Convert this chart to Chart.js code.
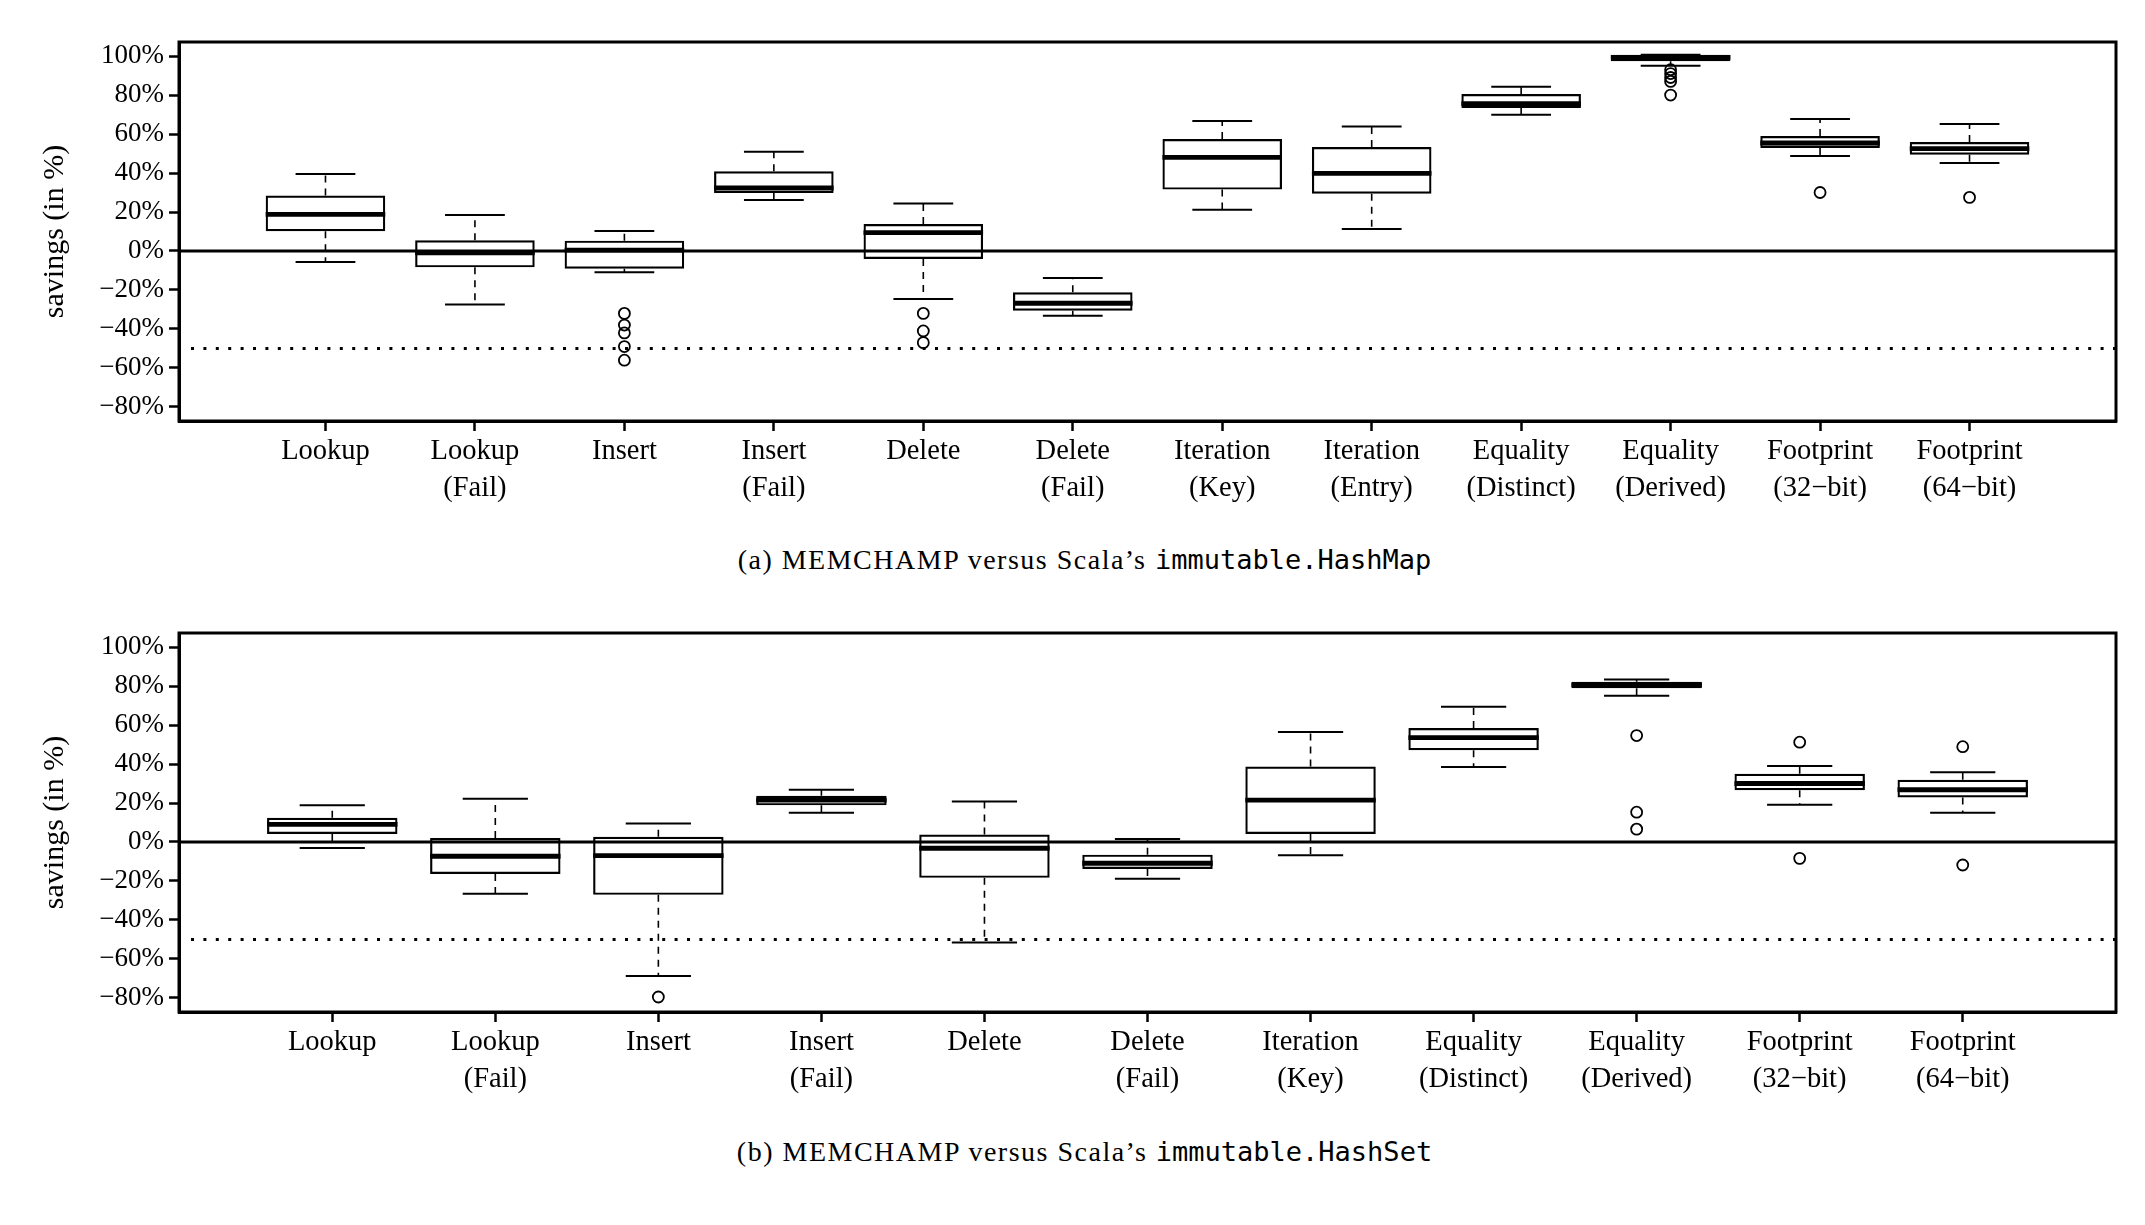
<!DOCTYPE html>
<html>
<head>
<meta charset="utf-8">
<title>MEMCHAMP savings</title>
<script src="https://cdn.jsdelivr.net/npm/chart.js@4"></script>
<style>
body { margin:0; background:#fff; width:2145px; height:1225px; position:relative; overflow:hidden; }
.panel { position:absolute; left:0; width:2145px; height:520px; }
.caption { position:absolute; left:12px; width:2145px; text-align:center; font-family:'Liberation Serif', serif; font-size:28px; letter-spacing:1.5px; color:#000; line-height:30px; }
.caption code { font-family:'DejaVu Sans Mono', monospace; font-size:27px; letter-spacing:0; }
</style>
</head>
<body>
<div class="panel" style="top:0px"><canvas id="mapChart" width="2145" height="520"></canvas></div>
<div class="caption" style="top:545px">(a) MEMCHAMP versus Scala’s <code>immutable.HashMap</code></div>
<div class="panel" style="top:591px"><canvas id="setChart" width="2145" height="520"></canvas></div>
<div class="caption" style="top:1137px">(b) MEMCHAMP versus Scala’s <code>immutable.HashSet</code></div>

<script>
///// data: (a) immutable.HashMap
var mapLabels = [['Lookup'], ['Lookup', '(Fail)'], ['Insert'], ['Insert', '(Fail)'], ['Delete'], ['Delete', '(Fail)'],
    ['Iteration', '(Key)'], ['Iteration', '(Entry)'], ['Equality', '(Distinct)'], ['Equality', '(Derived)'],
    ['Footprint', '(32−bit)'], ['Footprint', '(64−bit)']];
var mapLow    = [-5.6, -27.5, -10.9, 26.2, -24.6, -33.2, 21.2, 11.3, 69.9, 95.0, 48.7, 45.1];
var mapQ1     = [10.1, -8.4, -9.1, 29.7, -4.1, -30.6, 31.5, 29.4, 73.3, 97.3, 52.8, 49.4];
var mapMedian = [18.8, -1.0, 0.4, 32.3, 9.4, -26.8, 48.0, 39.8, 75.6, 99.3, 55.4, 52.5];
var mapQ3     = [28.5, 5.5, 5.3, 40.9, 13.8, -21.2, 57.4, 53.3, 80.5, 100.6, 59.0, 55.9];
var mapHigh   = [39.5, 18.5, 10.3, 50.9, 24.4, -13.8, 66.7, 63.9, 84.3, 100.6, 67.7, 65.1];
var mapOutliers = [[], [], [-32, -38, -42, -49, -56], [], [-32, -41, -47], [], [], [], [],
    [93, 91, 89, 87, 80], [30], [27.5]];

///// data: (b) immutable.HashSet
var setLabels = [['Lookup'], ['Lookup', '(Fail)'], ['Insert'], ['Insert', '(Fail)'], ['Delete'], ['Delete', '(Fail)'],
    ['Iteration', '(Key)'], ['Equality', '(Distinct)'], ['Equality', '(Derived)'],
    ['Footprint', '(32−bit)'], ['Footprint', '(64−bit)']];
var setLow    = [-3.1, -26.6, -68.7, 15.0, -51.5, -18.9, -6.8, 38.5, 75.0, 19.1, 15.0];
var setQ1     = [4.1, -16.4, -27.1, 18.8, -18.4, -13.8, 4.1, 47.1, 78.8, 26.6, 22.8];
var setMedian = [9.0, -7.3, -7.0, 21.5, -3.2, -10.9, 21.5, 53.5, 80.6, 30.0, 26.8];
var setQ3     = [12.4, 2.0, 2.7, 23.7, 3.8, -6.5, 38.7, 58.5, 82.2, 35.0, 31.9];
var setHigh   = [18.8, 22.2, 9.5, 26.8, 20.8, 1.5, 56.4, 69.4, 83.4, 39.0, 35.8];
var setOutliers = [[], [], [-79.5], [], [], [], [], [], [54.6, 15.3, 6.6], [51.2, -8.4], [48.9, -11.8]];

///// shared axis settings
var yTicks = [-80, -60, -40, -20, 0, 20, 40, 60, 80, 100];
var yMin = -80, yMax = 100;
var zeroLine = 0, dottedLine = -50;
/////

Chart.defaults.font.family = "'Liberation Serif', 'Times New Roman', serif";
Chart.defaults.color = '#000';
Chart.defaults.animation = false;

// the full frame + the horizontal reference lines
var framePlugin = {
    id: 'framePlugin',
    beforeDatasetsDraw: function(chart) {
        var ctx = chart.ctx, area = chart.chartArea, y = chart.scales.y;
        ctx.save();
        ctx.strokeStyle = '#000';
        ctx.lineWidth = 3;
        ctx.beginPath();
        ctx.moveTo(area.left, y.getPixelForValue(zeroLine));
        ctx.lineTo(area.right, y.getPixelForValue(zeroLine));
        ctx.stroke();
        ctx.lineWidth = 3;
        ctx.setLineDash([3, 9.4]);
        ctx.beginPath();
        ctx.moveTo(area.left + 12, y.getPixelForValue(dottedLine));
        ctx.lineTo(area.right, y.getPixelForValue(dottedLine));
        ctx.stroke();
        ctx.restore();
    },
    afterDraw: function(chart) {
        var ctx = chart.ctx, area = chart.chartArea;
        ctx.save();
        ctx.strokeStyle = '#000';
        ctx.lineWidth = 3;
        ctx.strokeRect(area.left, area.top, area.right - area.left, area.bottom - area.top);
        ctx.restore();
    }
};

function lineSet(points, width, dash, order) {
    return {
        type: 'line', data: points, borderColor: '#000', borderWidth: width, borderDash: dash,
        borderCapStyle: 'butt', pointRadius: 0, fill: false, spanGaps: false, tension: 0, order: order
    };
}

function makeChart(id, labels, low, q1, median, q3, high, outliers) {
    var n = labels.length;
    var whiskers = [], caps = [], medians = [], boxes = [], points = [];
    for (var i = 0; i < n; i++) {
        var x = i + 1;
        whiskers.push({x: x, y: q3[i]}, {x: x, y: high[i]}, {x: x, y: null});
        whiskers.push({x: x, y: q1[i]}, {x: x, y: low[i]}, {x: x, y: null});
        caps.push({x: x - 0.2, y: high[i]}, {x: x + 0.2, y: high[i]}, {x: x + 0.2, y: null});
        caps.push({x: x - 0.2, y: low[i]}, {x: x + 0.2, y: low[i]}, {x: x + 0.2, y: null});
        medians.push({x: x - 0.4, y: median[i]}, {x: x + 0.4, y: median[i]}, {x: x + 0.4, y: null});
        boxes.push({x: x, y: [q1[i], q3[i]]});
        outliers[i].forEach(function(v) { points.push({x: x, y: v}); });
    }
    // R style axis padding: half a box each side + 4%
    var pad = 0.5 + 0.04 * n;
    var yPad = 0.04 * (yMax - yMin);

    return new Chart(document.getElementById(id), {
        type: 'bar',
        data: {
            datasets: [
                lineSet(whiskers, 1.6, [7, 6], 6),
                {
                    type: 'bar', data: boxes, backgroundColor: 'rgba(0,0,0,0)', borderColor: '#000',
                    borderWidth: 2.2, borderSkipped: false, barPercentage: 0.8, categoryPercentage: 1.0, order: 5
                },
                lineSet(caps, 2, [], 4),
                lineSet(medians, 4.8, [], 3),
                {
                    type: 'scatter', data: points, pointStyle: 'circle', pointRadius: 5.5, borderWidth: 1.8,
                    borderColor: '#000', backgroundColor: 'rgba(0,0,0,0)', order: 2
                }
            ]
        },
        options: {
            responsive: false,
            devicePixelRatio: 1,
            layout: {padding: {top: 42, right: 29, left: 0, bottom: 0}},
            plugins: {legend: {display: false}, tooltip: {enabled: false}},
            scales: {
                x: {
                    type: 'linear', min: 1 - pad, max: n + pad, offset: false,
                    afterBuildTicks: function(scale) {
                        scale.ticks = labels.map(function(l, i) { return {value: i + 1}; });
                    },
                    afterFit: function(scale) { scale.height = 99; },
                    grid: {drawOnChartArea: false, offset: false, tickLength: 10, tickWidth: 2.5, tickColor: '#000'},
                    border: {display: true, color: '#000', width: 3},
                    ticks: {
                        autoSkip: false, maxRotation: 0, padding: 2,
                        font: {size: 28.5, lineHeight: 1.3},
                        callback: function(v) { return labels[v - 1]; }
                    }
                },
                y: {
                    type: 'linear', min: yMin - yPad, max: yMax + yPad,
                    afterBuildTicks: function(scale) {
                        scale.ticks = yTicks.map(function(v) { return {value: v}; });
                    },
                    afterFit: function(scale) { scale.width = 179; },
                    grid: {drawOnChartArea: false, tickLength: 10, tickWidth: 2.5, tickColor: '#000'},
                    border: {display: true, color: '#000', width: 3},
                    ticks: {
                        padding: 5, font: {size: 27},
                        callback: function(v) { return (v < 0 ? '−' : '') + Math.abs(v) + '%'; }
                    },
                    title: {display: true, text: 'savings (in %)', font: {size: 30}, padding: {top: 37, bottom: 0}}
                }
            }
        },
        plugins: [framePlugin]
    });
}

var mapChart = makeChart('mapChart', mapLabels, mapLow, mapQ1, mapMedian, mapQ3, mapHigh, mapOutliers);
var setChart = makeChart('setChart', setLabels, setLow, setQ1, setMedian, setQ3, setHigh, setOutliers);
</script>
</body>
</html>
